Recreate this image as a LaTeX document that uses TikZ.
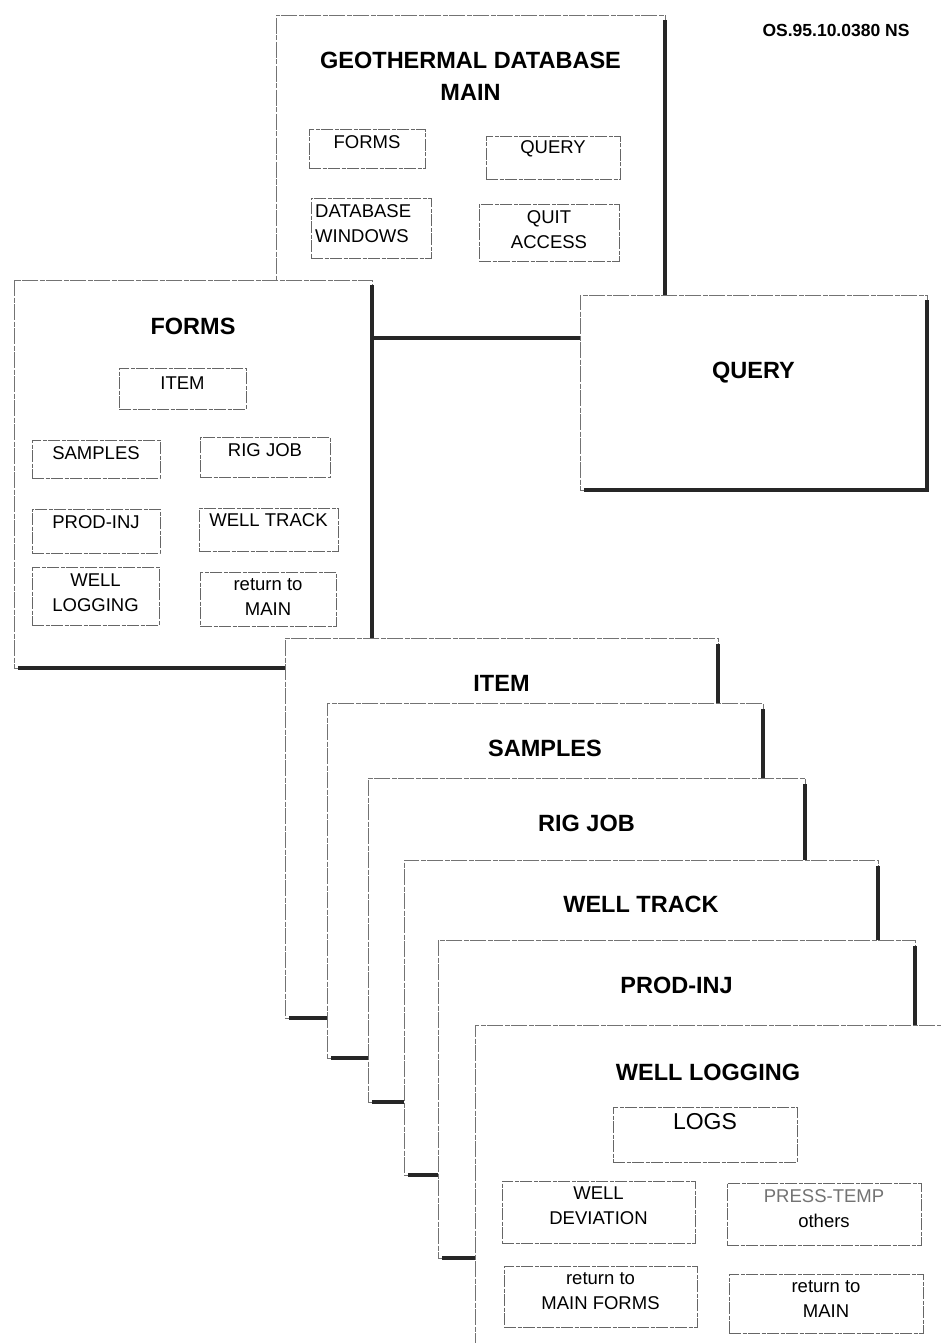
\documentclass[tikz,border=0pt]{standalone}
\usepackage{fontspec}
\setmainfont{Liberation Sans}
\tikzset{
  win/.style={draw=black!55, line width=0.8, dash pattern=on 16pt off 1.5pt on 5pt off 1.5pt, fill=white,
    anchor=north west, inner sep=0, outer sep=0},
  winshadow/.style={draw=black!85, line width=3.8},
  btn/.style={draw=black!60, line width=0.8, dash pattern=on 12pt off 1.5pt on 4pt off 1.5pt,
    anchor=north west, inner sep=0, outer sep=0},
  lbl/.style={inner sep=0, align=center, font=\fontsize{18.5}{25}\selectfont},
  ttl/.style={inner sep=0, align=center, font=\bfseries\fontsize{23.5}{32}\selectfont},
}

\begin{document}
\begin{tikzpicture}[x=1pt, y=-1pt]
  \useasboundingbox (0,0) rectangle (940,1343);

  \node[inner sep=0, font=\bfseries\fontsize{17.5}{20}\selectfont] (docno) at (836,30) {OS.95.10.0380 NS};

  % main menu
  \node[win, minimum width=389, minimum height=323] (mainwin) at (276,15) {};
  \draw[winshadow] ([yshift=-5]mainwin.north east) -- (mainwin.south east) -- ([xshift=4]mainwin.south west);
  \node[ttl] (maint) at ([yshift=-61]mainwin.north) {GEOTHERMAL DATABASE\\MAIN};
  \node[btn, minimum width=116, minimum height=39] (mforms) at (309,129) {};
  \node[lbl] (mformsl) at ([yshift=-13]mforms.north) {FORMS};
  \node[btn, minimum width=134, minimum height=43] (mquery) at (486,136) {};
  \node[lbl] (mqueryl) at ([yshift=-13]mquery.north) {QUERY};
  \node[btn, minimum width=120, minimum height=60] (mdbwin) at (311,198) {};
  \node[lbl, align=left, anchor=west] (mdbwinl) at ([xshift=4, yshift=-25.5]mdbwin.north west) {DATABASE\\WINDOWS};
  \node[btn, minimum width=140, minimum height=57] (mquit) at (479,204) {};
  \node[lbl] (mquitl) at ([yshift=-25.5]mquit.north) {QUIT\\ACCESS};

  % query
  \node[win, minimum width=347, minimum height=195] (querywin) at (580,295) {};
  \draw[winshadow] ([yshift=-5]querywin.north east) -- (querywin.south east) -- ([xshift=4]querywin.south west);
  \node[ttl] (queryt) at ([yshift=-78]querywin.north) {QUERY};

  % forms menu
  \node[win, minimum width=358, minimum height=388] (formswin) at (14,280) {};
  \draw[winshadow] ([yshift=-5]formswin.north east) -- (formswin.south east) -- ([xshift=4]formswin.south west);
  \node[ttl] (formst) at ([yshift=-46]formswin.north) {FORMS};
  \node[btn, minimum width=127, minimum height=41] (fitem) at (119,368) {};
  \node[lbl] (fiteml) at ([yshift=-15]fitem.north) {ITEM};
  \node[btn, minimum width=128, minimum height=38] (fsamp) at (32,440) {};
  \node[lbl] (fsampl) at ([yshift=-13]fsamp.north) {SAMPLES};
  \node[btn, minimum width=130, minimum height=40] (frig) at (200,437) {};
  \node[lbl] (frigl) at ([yshift=-13]frig.north) {RIG JOB};
  \node[btn, minimum width=128, minimum height=44] (fprod) at (32,509) {};
  \node[lbl] (fprodl) at ([yshift=-13]fprod.north) {PROD-INJ};
  \node[btn, minimum width=139, minimum height=43] (ftrack) at (199,508) {};
  \node[lbl] (ftrackl) at ([yshift=-12]ftrack.north) {WELL TRACK};
  \node[btn, minimum width=127, minimum height=58] (flog) at (32,567) {};
  \node[lbl] (flogl) at ([yshift=-25.5]flog.north) {WELL\\LOGGING};
  \node[btn, minimum width=136, minimum height=54] (fret) at (200,572) {};
  \node[lbl] (fretl) at ([yshift=-25]fret.north) {return to\\MAIN};

  % stacked forms
  \node[win, minimum width=433, minimum height=380] (itemwin) at (285,638) {};
  \draw[winshadow] ([yshift=-6]itemwin.north east) -- (itemwin.south east) -- ([xshift=4]itemwin.south west);
  \node[ttl] (itemt) at ([yshift=-45]itemwin.north) {ITEM};

  \node[win, minimum width=436, minimum height=355] (sampwin) at (327,703) {};
  \draw[winshadow] ([yshift=-6]sampwin.north east) -- (sampwin.south east) -- ([xshift=4]sampwin.south west);
  \node[ttl] (sampt) at ([yshift=-45]sampwin.north) {SAMPLES};

  \node[win, minimum width=437, minimum height=324] (rigwin) at (368,778) {};
  \draw[winshadow] ([yshift=-6]rigwin.north east) -- (rigwin.south east) -- ([xshift=4]rigwin.south west);
  \node[ttl] (rigt) at ([yshift=-45]rigwin.north) {RIG JOB};

  \node[win, minimum width=474, minimum height=315] (trackwin) at (404,860) {};
  \draw[winshadow] ([yshift=-6]trackwin.north east) -- (trackwin.south east) -- ([xshift=4]trackwin.south west);
  \node[ttl] (trackt) at ([yshift=-44]trackwin.north) {WELL TRACK};

  \node[win, minimum width=477, minimum height=318] (prodwin) at (438,940) {};
  \draw[winshadow] ([yshift=-6]prodwin.north east) -- (prodwin.south east) -- ([xshift=4]prodwin.south west);
  \node[ttl] (prodt) at ([yshift=-45]prodwin.north) {PROD-INJ};

  % well logging
  \node[win, minimum width=480, minimum height=340] (logwin) at (475,1025) {};
  \node[ttl] (logt) at ([xshift=-7, yshift=-47]logwin.north) {WELL LOGGING};
  \node[btn, minimum width=184, minimum height=55] (llogs) at (613,1107) {};
  \node[lbl, font=\fontsize{23}{25}\selectfont] (llogsl) at ([yshift=-15]llogs.north) {LOGS};
  \node[btn, minimum width=193, minimum height=62] (ldev) at (502,1181) {};
  \node[lbl] (ldevl) at ([yshift=-25]ldev.north) {WELL\\DEVIATION};
  \node[btn, minimum width=194, minimum height=62] (lpress) at (727,1183) {};
  \node[lbl] (lpressl) at ([yshift=-26]lpress.north) {\textcolor{black!55}{PRESS-TEMP}\\others};
  \node[btn, minimum width=193, minimum height=61] (lretf) at (504,1266) {};
  \node[lbl] (lretfl) at ([yshift=-25.5]lretf.north) {return to\\MAIN FORMS};
  \node[btn, minimum width=194, minimum height=59] (lret) at (729,1274) {};
  \node[lbl] (lretl) at ([yshift=-25.5]lret.north) {return to\\MAIN};
\end{tikzpicture}
\end{document}
